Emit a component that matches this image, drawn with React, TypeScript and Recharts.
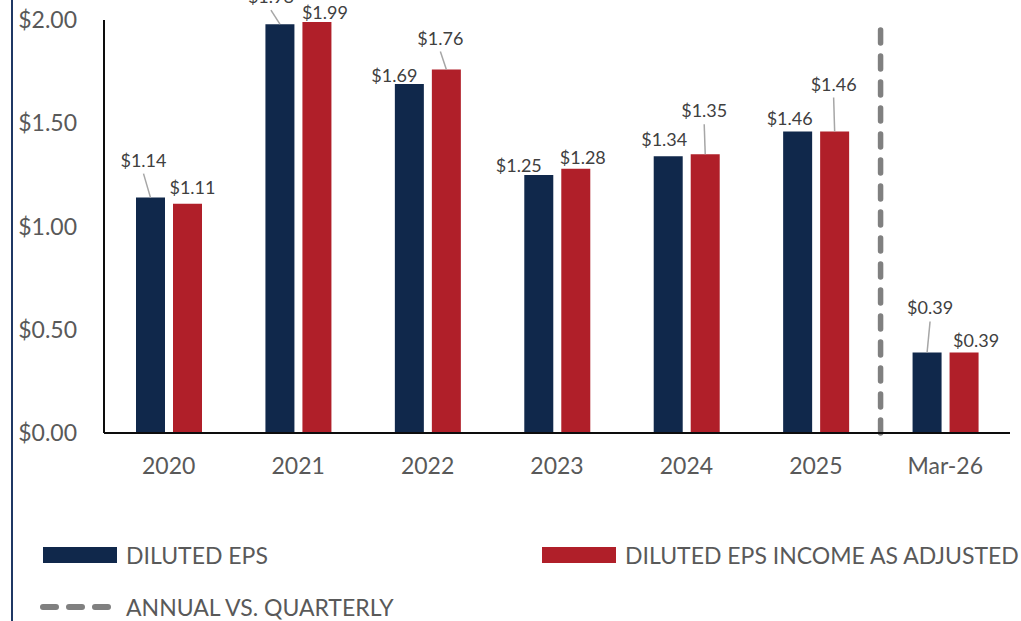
import React from 'react';
import {
  BarChart, Bar, XAxis, YAxis, LabelList, ReferenceLine, Legend,
} from 'recharts';

const categories = ['2020', '2021', '2022', '2023', '2024', '2025', 'Mar-26'];
const dilutedEps = [1.14, 1.98, 1.69, 1.25, 1.34, 1.46, 0.39];
const adjustedEps = [1.11, 1.99, 1.76, 1.28, 1.35, 1.46, 0.39];
const yTicks = [0, 0.5, 1, 1.5, 2];

// label placement relative to bar top centre: [dx, dy, leader line]
const navyLabelPos: [number, number, boolean][] = [
  [-7, 38, true], [-9, 28, true], [-15, 9, false], [-20, 10, false],
  [-4, 17, false], [-8, 14, false], [3, 45, true],
];
const redLabelPos: [number, number, boolean][] = [
  [5, 17, false], [8, 10, false], [-6, 32, true], [7, 12, false],
  [-1, 44, true], [-1, 48, true], [12, 12, false],
];

const NAVY = '#10284b';
const RED = '#b01f29';
const GRAY_TEXT = '#595959';
const FONT = 'Lato, "Open Sans", sans-serif';

const data = categories.map((name, i) => ({
  name,
  diluted: dilutedEps[i],
  adjusted: adjustedEps[i],
}));

const makeLabel = (pos: [number, number, boolean][]) => (props: any) => {
  const { x, y, width, value, index } = props;
  const [dx, dy, leader] = pos[index];
  const cx = Number(x) + Number(width) / 2;
  const top = Number(y);
  const lx = cx + dx;
  const ly = top - dy;
  return (
    <g>
      {leader && (
        <line x1={lx} y1={ly + 14} x2={cx} y2={top} stroke="#a6a6a6" strokeWidth={1.5} />
      )}
      <text
        x={lx}
        y={ly}
        textAnchor="middle"
        dominantBaseline="central"
        fill="#404040"
        fontSize={18}
        fontFamily={FONT}
      >
        {`$${Number(value).toFixed(2)}`}
      </text>
    </g>
  );
};

const LegendBox = () => (
  <svg width={1021} height={621} style={{ display: 'block' }}>
    <rect x={43} y={547} width={74} height={16} fill={NAVY} />
    <text x={126} y={555} dominantBaseline="central" fill={GRAY_TEXT} fontSize={23} fontFamily={FONT}>
      DILUTED EPS
    </text>
    <rect x={542} y={547} width={74} height={16} fill={RED} />
    <text x={625} y={555} dominantBaseline="central" fill={GRAY_TEXT} fontSize={23} fontFamily={FONT}>
      DILUTED EPS INCOME AS ADJUSTED
    </text>
    <line x1={43} y1={607} x2={112} y2={607} stroke="#808080" strokeWidth={6}
      strokeDasharray="13 13" strokeLinecap="round" />
    <text x={126} y={607} dominantBaseline="central" fill={GRAY_TEXT} fontSize={23} fontFamily={FONT}>
      ANNUAL VS. QUARTERLY
    </text>
  </svg>
);

export default function App() {
  return (
    <div style={{ position: 'absolute', left: 0, top: 0, width: 1021, height: 621, background: '#fff' }}>
      <div style={{ position: 'absolute', left: 11, top: 0, width: 2, height: 621, background: '#1f3864' }} />
      <BarChart
        width={1021}
        height={621}
        data={data}
        margin={{ top: 20, right: 11, left: 0, bottom: 158 }}
        barSize={29}
        barGap={8}
      >
        <XAxis
          dataKey="name"
          height={30}
          axisLine={{ stroke: '#0d0d0d', strokeWidth: 2 }}
          tickLine={false}
          tickSize={0}
          tickMargin={25}
          tick={{ fill: GRAY_TEXT, fontSize: 23, fontFamily: FONT }}
        />
        <YAxis
          width={104}
          domain={[0, 2]}
          ticks={yTicks}
          axisLine={{ stroke: '#0d0d0d', strokeWidth: 2 }}
          tickLine={false}
          tickSize={0}
          tickMargin={27}
          tickFormatter={(v: number) => `$${v.toFixed(2)}`}
          tick={{ fill: GRAY_TEXT, fontSize: 23, fontFamily: FONT }}
        />
        <ReferenceLine
          x="2025"
          position="end"
          stroke="#808080"
          strokeWidth={5.5}
          strokeDasharray="13 13"
          strokeLinecap="round"
        />
        <Bar dataKey="diluted" name="DILUTED EPS" fill={NAVY} isAnimationActive={false}>
          <LabelList dataKey="diluted" content={makeLabel(navyLabelPos)} />
        </Bar>
        <Bar dataKey="adjusted" name="DILUTED EPS INCOME AS ADJUSTED" fill={RED} isAnimationActive={false}>
          <LabelList dataKey="adjusted" content={makeLabel(redLabelPos)} />
        </Bar>
        <Legend
          layout="horizontal"
          align="center"
          verticalAlign="middle"
          content={() => <LegendBox />}
          wrapperStyle={{ left: 0, top: 0, width: 1021, height: 621, pointerEvents: 'none' }}
        />
      </BarChart>
    </div>
  );
}
